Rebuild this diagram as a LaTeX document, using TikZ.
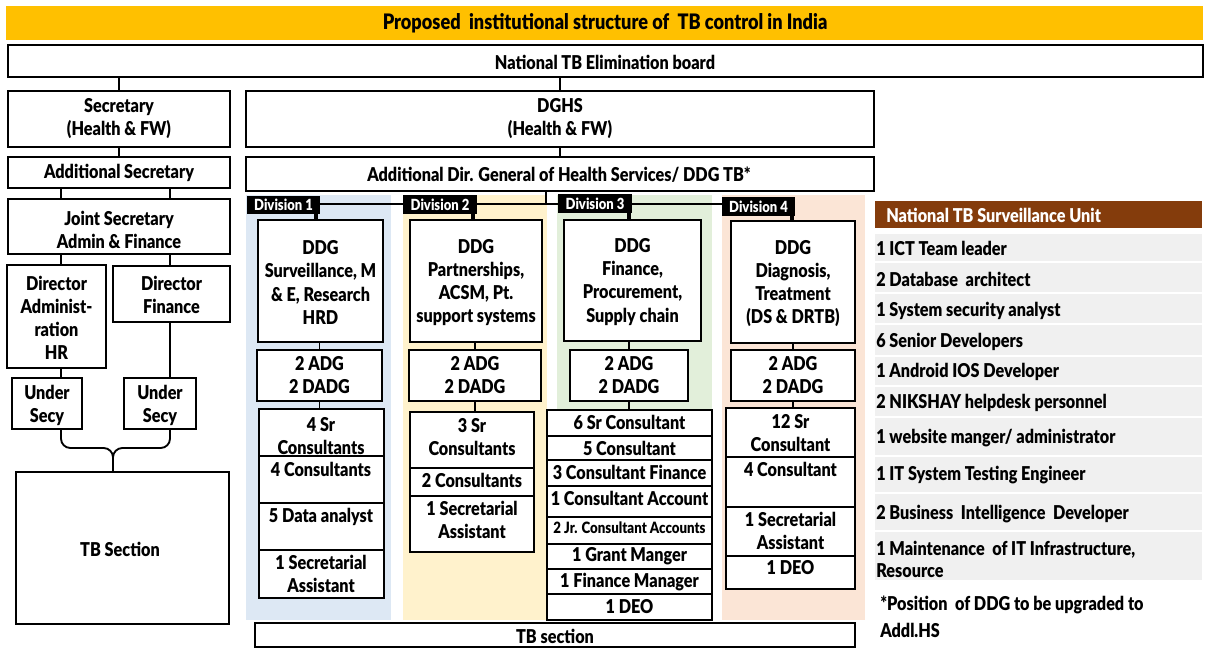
\documentclass[tikz,border=0pt]{standalone}
\usepackage{fontspec}
\setmainfont{Lato Black}[FakeStretch=0.85]
\usetikzlibrary{fit}
\definecolor{titleyellow}{HTML}{FFC000}
\definecolor{divblue}{HTML}{DDE8F4}
\definecolor{divyellow}{HTML}{FFF2CC}
\definecolor{divgreen}{HTML}{E2EFDA}
\definecolor{divpeach}{HTML}{FBE5D6}
\definecolor{unitbrown}{HTML}{843C0C}
\definecolor{rowgrey}{HTML}{F0F0F0}
\newcommand\mf{\fontsize{14.3}{17.3}\selectfont}
\newcommand\tf{\fontsize{16}{18}\selectfont}
\newcommand\tagf{\fontsize{11.5}{12}\selectfont}
\newcommand\smf{\fontsize{11.7}{13}\selectfont}
\tikzset{
  box/.style={draw, line width=1.4pt, fill=white, inner sep=0pt},
  lbl/.style={inner sep=0pt, align=center, font=\mf},
  conn/.style={line width=1.4pt},
  stub/.style={line width=2.6pt},
  panel/.style={inner sep=0pt, draw=none},
  divtag/.style={fill=black, inner sep=0pt},
  tagtxt/.style={inner sep=0pt, text=white, font=\tagf},
  row/.style={fill=rowgrey, inner sep=0pt},
  rowtxt/.style={anchor=west, inner sep=0pt, align=left, font=\mf},
}
\begin{document}
\begin{tikzpicture}[x=0.75pt, y=-0.75pt]
\useasboundingbox (0,0) rectangle (1209,648);

% ---------- heading and board ----------
\node[fill=titleyellow, inner sep=0pt, fit={(6,6)(1203,40)}] (title) {};
\node[lbl, font=\tf] (titlet) at (605,23.5) {Proposed\ \ institutional structure of\ \ TB control in India};
\node[box, fit={(8,45)(1203,77)}] (board) {};
\node[lbl] (boardt) at (605,62) {National TB Elimination board};

% ---------- ministry side ----------
\node[box, fit={(8,91)(230,147)}] (sec) {};
\node[box, fit={(8,157)(230,188)}] (addsec) {};
\node[box, fit={(8,199)(230,254)}] (js) {};
\node[box, fit={(7,265)(106,368)}] (dira) {};
\node[box, fit={(113,266)(230,322)}] (dirf) {};
\node[box, fit={(12,378)(82,429)}] (usl) {};
\node[box, fit={(124,378)(196,429)}] (usr) {};
\node[box, fit={(16,472)(229,624)}] (tbs) {};
\node[lbl] (sect) at (119,118.5) {Secretary\\(Health \& FW)};
\node[lbl] (addsect) at (119,173) {Additional Secretary};
\node[lbl] (jst) at (119,229.5) {Joint Secretary\\Admin \& Finance};
\node[lbl] (dirat) at (56.5,318) {Director\\Administ-\\ration\\HR};
\node[lbl] (dirft) at (171.5,295) {Director\\Finance};
\node[lbl] (uslt) at (47,405) {Under\\Secy};
\node[lbl] (usrt) at (160,405) {Under\\Secy};
\node[lbl] (tbst) at (120,549) {TB Section};

\coordinate (xa) at (61,0);
\coordinate (xb) at (170,0);
\coordinate (bj) at (113,448);
\draw[conn] (board.south -| sec.north) -- (sec.north);
\draw[conn] (sec.south) -- (addsec.north);
\draw[conn] (addsec.south -| xa) -- (js.north -| xa);
\draw[conn] (addsec.south -| xb) -- (js.north -| xb);
\draw[conn] (js.south -| xa) -- (dira.north -| xa);
\draw[conn] (js.south -| xb) -- (dirf.north -| xb);
\draw[conn] (dira.south -| xa) -- (usl.north -| xa);
\draw[conn] (dirf.south -| xb) -- (usr.north -| xb);
% brace joining both under secretaries to the TB section
\draw[conn, rounded corners=7pt] (usl.south -| xa) |- (bj) -- (tbs.north -| bj);
\draw[conn, rounded corners=7pt] (usr.south -| xb) |- (bj) -- (tbs.north -| bj);

% ---------- DGHS side ----------
\node[box, fit={(246,91)(874,147)}] (dghs) {};
\node[box, fit={(246,157)(874,191)}] (addg) {};
\node[lbl] (dghst) at (560,118.5) {DGHS\\(Health \& FW)};
\node[lbl] (addgt) at (559,175) {Additional Dir. General of Health Services/ DDG TB*};
\draw[conn] (board.south -| dghs.north) -- (dghs.north);
\draw[conn] (dghs.south) -- (addg.north);

% division backgrounds
\node[panel, fill=divblue,   fit={(246,195)(391,620)}] (p1) {};
\node[panel, fill=divyellow, fit={(403,195)(547,620)}] (p2) {};
\node[panel, fill=divgreen,  fit={(557,195)(712,620)}] (p3) {};
\node[panel, fill=divpeach,  fit={(722,195)(865,620)}] (p4) {};

% division tags and their links
\coordinate (hy) at (0,204);
\coordinate (vx) at (546,0);
\node[divtag, fit={(247,196)(320,214)}] (l1) {};
\node[divtag, fit={(403,195)(477,214)}] (l2) {};
\node[divtag, fit={(558,194)(632,213)}] (l3) {};
\node[divtag, fit={(722,197)(795,216)}] (l4) {};
\node[tagtxt] (l1t) at (l1) {Division 1};
\node[tagtxt] (l2t) at (l2) {Division 2};
\node[tagtxt] (l3t) at (l3) {Division 3};
\node[tagtxt] (l4t) at (l4) {Division 4};
\draw[conn] (addg.south -| vx) -- (vx |- hy);
\draw[conn] (l1.east |- hy) -- (l2.west |- hy);
\draw[conn] (l2.east |- hy) -- (l3.west |- hy);
\draw[conn] (l3.east |- hy) -- (l4.west |- hy);

% DDG boxes
\node[box, fit={(258,220)(383,342)}] (d1) {};
\node[box, fit={(410,220)(542,342)}] (d2) {};
\node[box, fit={(564,220)(701,341)}] (d3) {};
\node[box, fit={(731,221)(855,343)}] (d4) {};
\node[lbl] (d1t) at (320.5,282.5) {DDG\\Surveillance, M\\\& E, Research\\HRD};
\node[lbl] (d2t) at (476,282.5) {DDG\\Partnerships,\\ACSM, Pt.\\support systems};
\node[lbl] (d3t) at (632.5,282) {DDG\\Finance,\\Procurement,\\Supply chain};
\node[lbl] (d4t) at (793,283.5) {DDG\\Diagnosis,\\Treatment\\(DS \& DRTB)};

\coordinate (sx1) at (316,0);
\coordinate (sx2) at (473,0);
\coordinate (sx3) at (629,0);
\coordinate (sx4) at (792,0);
\draw[stub] (l1.south -| sx1) -- (d1.north -| sx1);
\draw[stub] (l2.south -| sx2) -- (d2.north -| sx2);
\draw[stub] (l3.south -| sx3) -- (d3.north -| sx3);
\draw[stub] (l4.south -| sx4) -- (d4.north -| sx4);

% ADG boxes
\node[box, fit={(257,350)(382,401)}] (a1) {};
\node[box, fit={(409,350)(541,401)}] (a2) {};
\node[box, fit={(570,350)(688,401)}] (a3) {};
\node[box, fit={(731,350)(855,401)}] (a4) {};
\node[lbl] (a1t) at (a1) {2 ADG\\2 DADG};
\node[lbl] (a2t) at (a2) {2 ADG\\2 DADG};
\node[lbl] (a3t) at (a3) {2 ADG\\2 DADG};
\node[lbl] (a4t) at (a4) {2 ADG\\2 DADG};
\draw[conn] (d1.south -| a1.north) -- (a1.north);
\draw[conn] (d2.south -| a2.north) -- (a2.north);
\draw[conn] (d3.south -| a3.north) -- (a3.north);
\draw[conn] (d4.south -| a4.north) -- (a4.north);

% Division 1 staff
\node[box, fit={(259,409)(384,456)}] (s1a) {};
\node[box, fit={(259,456)(384,503)}] (s1b) {};
\node[box, fit={(259,503)(384,550)}] (s1c) {};
\node[box, fit={(259,550)(384,598)}] (s1d) {};
\node[lbl] (t1a) at (321,436) {4 Sr\\Consultants};
\node[lbl] (t1b) at (321,469) {4 Consultants};
\node[lbl] (t1c) at (321,517) {5 Data analyst};
\node[lbl] (t1d) at (321,574) {1 Secretarial\\Assistant};
\draw[conn] (a1.south) -- (s1a.north -| a1.south);

% Division 2 staff
\node[box, fit={(410,412)(534,468)}] (s2a) {};
\node[box, fit={(410,468)(534,496)}] (s2b) {};
\node[box, fit={(410,496)(534,552)}] (s2c) {};
\node[lbl] (t2a) at (472,437) {3 Sr\\Consultants};
\node[lbl] (t2b) at (472,480) {2 Consultants};
\node[lbl] (t2c) at (472,520) {1 Secretarial\\Assistant};
\draw[conn] (a2.south) -- (s2a.north -| a2.south);

% Division 3 staff
\node[box, fit={(547,410)(712,436)}] (s3a) {};
\node[box, fit={(547,436)(712,460)}] (s3b) {};
\node[box, fit={(547,460)(712,486)}] (s3c) {};
\node[box, fit={(547,486)(712,517)}] (s3d) {};
\node[box, fit={(547,517)(712,544)}] (s3e) {};
\node[box, fit={(547,544)(712,569)}] (s3f) {};
\node[box, fit={(547,569)(712,594)}] (s3g) {};
\node[box, fit={(547,594)(712,620)}] (s3h) {};
\node[lbl] (t3a) at (629.5,422) {6 Sr Consultant};
\node[lbl] (t3b) at (629.5,448) {5 Consultant};
\node[lbl] (t3c) at (629.5,472) {3 Consultant Finance};
\node[lbl] (t3d) at (629.5,498) {1 Consultant Account};
\node[lbl, font=\smf] (t3e) at (629.5,528) {2 Jr. Consultant Accounts};
\node[lbl] (t3f) at (629.5,556) {1 Grant Manger};
\node[lbl] (t3g) at (629.5,582) {1 Finance Manager};
\node[lbl] (t3h) at (629.5,607) {1 DEO};
\draw[conn] (a3.south) -- (s3a.north -| a3.south);

% Division 4 staff
\node[box, fit={(726,408)(855,457)}] (s4a) {};
\node[box, fit={(726,457)(855,507)}] (s4b) {};
\node[box, fit={(726,507)(855,556)}] (s4c) {};
\node[box, fit={(726,556)(855,589)}] (s4d) {};
\node[lbl] (t4a) at (790.5,433) {12 Sr\\Consultant};
\node[lbl] (t4b) at (790.5,469) {4 Consultant};
\node[lbl] (t4c) at (790.5,531) {1 Secretarial\\Assistant};
\node[lbl] (t4d) at (790.5,568) {1 DEO};
\draw[conn] (a4.south) -- (s4a.north -| a4.south);

% common TB section
\node[box, fit={(255,623)(855,647)}] (tbsec) {};
\node[lbl] (tbsect) at (555,636) {TB section};

% ---------- surveillance unit ----------
\node[fill=unitbrown, inner sep=0pt, fit={(875,201)(1202,228)}] (nh) {};
\node[rowtxt, text=white] (nht) at (886,215) {National TB Surveillance Unit};
\node[row, fit={(875,234)(1202,261)}] (r1) {};
\node[row, fit={(875,263)(1202,292)}] (r2) {};
\node[row, fit={(875,294)(1202,323)}] (r3) {};
\node[row, fit={(875,325)(1202,355)}] (r4) {};
\node[row, fit={(875,357)(1202,385)}] (r5) {};
\node[row, fit={(875,387)(1202,416)}] (r6) {};
\node[row, fit={(875,418)(1202,455)}] (r7) {};
\node[row, fit={(875,457)(1202,492)}] (r8) {};
\node[row, fit={(875,494)(1202,530)}] (r9) {};
\node[row, fit={(875,532)(1202,580)}] (r10) {};
\node[rowtxt] (u1) at (876,248) {1 ICT Team leader};
\node[rowtxt] (u2) at (876,279) {2 Database\ \ architect};
\node[rowtxt] (u3) at (876,311) {1 System security analyst};
\node[rowtxt] (u4) at (876,342) {6 Senior Developers};
\node[rowtxt] (u5) at (876,372) {1 Android IOS Developer};
\node[rowtxt] (u6) at (876,403) {2 NIKSHAY helpdesk personnel};
\node[rowtxt] (u7) at (876,438) {1 website manger/ administrator};
\node[rowtxt] (u8) at (876,475) {1 IT System Testing Engineer};
\node[rowtxt] (u9) at (876,514) {2 Business\ \ Intelligence\ \ Developer};
\node[rowtxt, font=\fontsize{14.3}{16}\selectfont] (u10) at (876,559.5) {1 Maintenance\ \ of IT Infrastructure,\\Resource};
\node[rowtxt, font=\fontsize{14.3}{20}\selectfont] (note) at (880,616.5) {*Position\ \ of DDG to be upgraded to\\Addl.HS};
\end{tikzpicture}
\end{document}
